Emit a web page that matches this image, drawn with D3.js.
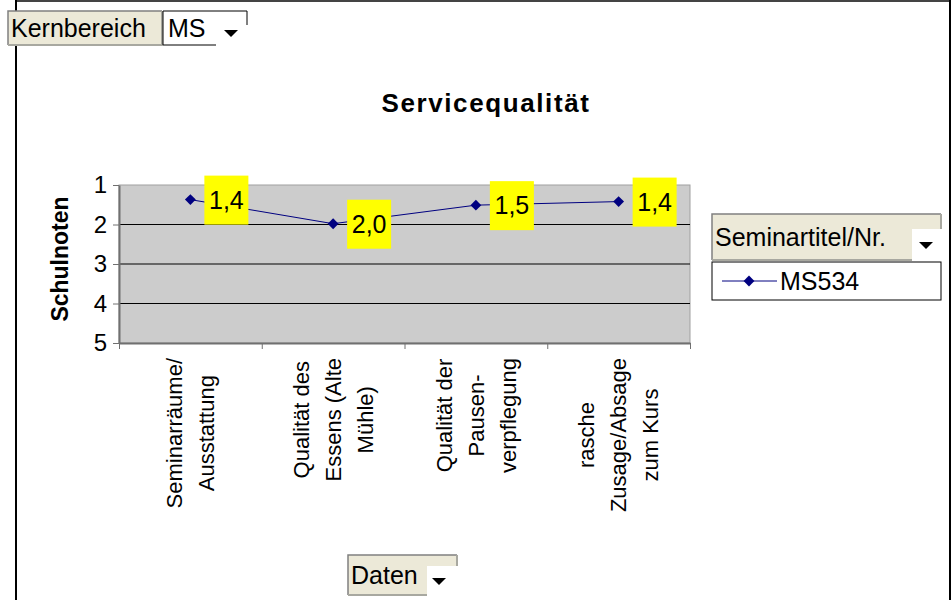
<!DOCTYPE html>
<html>
<head>
<meta charset="utf-8">
<script src="https://cdn.jsdelivr.net/npm/d3@7"></script>
<style>
  body { margin: 0; background: #fff; }
  svg text { font-family: "Liberation Sans", Arial, sans-serif; fill: #000; }
</style>
</head>
<body>
<div id="chart"></div>
<script>
// Data
const categoryLines = [
  ["Seminarräume/", "Ausstattung"],
  ["Qualität des", "Essens (Alte", "Mühle)"],
  ["Qualität der", "Pausen-", "verpflegung"],
  ["rasche", "Zusage/Absage", "zum Kurs"]
];
const values = [1.37, 1.98, 1.51, 1.42];
const yTicks = [1, 2, 3, 4, 5];
const seriesName = "MS534";
const title = "Servicequalität";
const yTitle = "Schulnoten";

const width = 951;
const height = 600;
const plot = { left: 119, right: 690, top: 185, bottom: 343 };

const svg = d3.select("#chart")
  .append("svg")
  .attr("width", width)
  .attr("height", height);

// outer chart frame
svg.append("line").attr("x1", 16).attr("x2", 950).attr("y1", 1).attr("y2", 1)
  .attr("stroke", "#444").attr("stroke-width", 2);
svg.append("line").attr("x1", 16).attr("x2", 16).attr("y1", 0).attr("y2", height)
  .attr("stroke", "#000").attr("stroke-width", 2);
svg.append("line").attr("x1", 950).attr("x2", 950).attr("y1", 0).attr("y2", height)
  .attr("stroke", "#000").attr("stroke-width", 2);

// scales
const x = d3.scaleBand()
  .domain(d3.range(values.length))
  .range([plot.left, plot.right]);
const xEdges = d3.scaleLinear()
  .domain([0, values.length])
  .range([plot.left, plot.right]);
const y = d3.scaleLinear()
  .domain([1, 5])
  .range([plot.top, plot.bottom]);

// plot area
svg.append("rect")
  .attr("x", plot.left).attr("y", plot.top)
  .attr("width", plot.right - plot.left).attr("height", plot.bottom - plot.top)
  .attr("fill", "#cccccc")
  .attr("stroke", "#a0a0a0");

// gridlines
svg.append("g")
  .selectAll("line")
  .data(yTicks.slice(1, -1))
  .join("line")
  .attr("x1", plot.left).attr("x2", plot.right)
  .attr("y1", d => y(d)).attr("y2", d => y(d))
  .attr("stroke", "#000");

// y axis
const yAxis = svg.append("g")
  .attr("transform", `translate(${plot.left},0)`)
  .call(d3.axisLeft(y).tickValues(yTicks).tickFormat(d3.format("d")).tickSize(6).tickPadding(6).tickSizeOuter(0));
yAxis.select(".domain").attr("stroke", "#707070").attr("stroke-width", 2);
yAxis.selectAll(".tick line").attr("stroke", "#707070");
yAxis.selectAll("text").style("font-size", "24px");

// x axis
const xAxis = svg.append("g")
  .attr("transform", `translate(0,${plot.bottom})`)
  .call(d3.axisBottom(xEdges).tickValues(d3.range(values.length + 1)).tickFormat("").tickSize(6).tickSizeOuter(0));
xAxis.select(".domain").attr("stroke", "#707070").attr("stroke-width", 2);
xAxis.selectAll(".tick line").attr("stroke", "#707070");

// category labels, rotated
const labelTop = 358;
const lineStep = 32;
categoryLines.forEach((lines, i) => {
  const g = svg.append("g")
    .attr("transform", `translate(${x(i) + x.bandwidth() / 2},${labelTop}) rotate(-90)`);
  const texts = g.selectAll("text")
    .data(lines)
    .join("text")
    .style("font-size", "22px")
    .attr("y", (d, j) => (j - (lines.length - 1) / 2) * lineStep)
    .attr("dy", "0.35em")
    .text(d => d);
  let maxLen = 0;
  texts.each(function () { maxLen = Math.max(maxLen, this.getComputedTextLength()); });
  texts.attr("text-anchor", "middle").attr("x", -maxLen / 2);
});

// y title
svg.append("text")
  .attr("transform", `translate(68,${(plot.top + plot.bottom) / 2 - 5}) rotate(-90)`)
  .attr("text-anchor", "middle")
  .style("font-size", "23px")
  .style("font-weight", "bold")
  .text(yTitle);

// chart title
svg.append("text")
  .attr("x", 486).attr("y", 112)
  .attr("text-anchor", "middle")
  .style("font-size", "26px")
  .style("font-weight", "bold")
  .style("letter-spacing", "1.6px")
  .text(title);

// line + markers
const line = d3.line()
  .x((d, i) => x(i) + x.bandwidth() / 2)
  .y(d => y(d));
svg.append("path")
  .datum(values)
  .attr("d", line)
  .attr("fill", "none")
  .attr("stroke", "#000080")
  .attr("stroke-width", 1);

const diamond = d3.symbol().type(d3.symbolDiamond2).size(75);
svg.append("g")
  .selectAll("path")
  .data(values)
  .join("path")
  .attr("transform", (d, i) => `translate(${x(i) + x.bandwidth() / 2},${y(d)})`)
  .attr("d", diamond)
  .attr("fill", "#000080");

// data labels
const fmt = v => v.toFixed(1).replace(".", ",");
const labels = svg.append("g")
  .selectAll("g")
  .data(values)
  .join("g")
  .attr("transform", (d, i) => `translate(${x(i) + x.bandwidth() / 2 + 14},${y(d)})`);
labels.append("rect")
  .attr("x", 0).attr("y", -24)
  .attr("width", 44).attr("height", 49)
  .attr("fill", "#ffff00");
labels.append("text")
  .attr("x", 22).attr("y", 0).attr("dy", "0.36em")
  .attr("text-anchor", "middle")
  .style("font-size", "25px")
  .text(fmt);

// pivot field buttons
function fieldButton(bx, by, w, h, label, arrowBox) {
  const g = svg.append("g");
  g.append("rect").attr("x", bx).attr("y", by).attr("width", w).attr("height", h)
    .attr("fill", "#ece9d8");
  g.append("path")
    .attr("d", `M${bx},${by + h}V${by}H${bx + w}`)
    .attr("fill", "none").attr("stroke", "#808080").attr("stroke-width", 1.5);
  g.append("path")
    .attr("d", `M${bx + w},${by}V${by + h}H${bx}`)
    .attr("fill", "none").attr("stroke", "#a8a8a0").attr("stroke-width", 2);
  if (arrowBox) {
    g.append("rect").attr("x", arrowBox[0]).attr("y", arrowBox[1])
      .attr("width", arrowBox[2]).attr("height", arrowBox[3]).attr("fill", "#fff");
  }
  g.append("text").attr("x", bx + 3).attr("y", by + h / 2).attr("dy", "0.36em")
    .style("font-size", "25px").text(label);
  return g;
}
function arrow(cx, cy) {
  svg.append("path")
    .attr("d", `M${cx - 7},${cy - 3}H${cx + 7}L${cx},${cy + 4}Z`)
    .attr("fill", "#000");
}

fieldButton(8, 11, 154, 34, "Kernbereich");
// page field value box
svg.append("path")
  .attr("d", "M247,25V11H163V45H216")
  .attr("fill", "none").attr("stroke", "#000").attr("stroke-width", 1);
svg.append("text").attr("x", 168).attr("y", 28).attr("dy", "0.36em")
  .style("font-size", "25px").text("MS");
arrow(231, 33);

fieldButton(712, 214, 229, 46, "Seminartitel/Nr.", [912, 229, 30, 32]);
arrow(926, 245);

fieldButton(348, 555, 109, 40, "Daten", [427, 566, 31, 30]);
arrow(439, 581);

// legend
svg.append("rect")
  .attr("x", 712).attr("y", 262).attr("width", 229).attr("height", 38)
  .attr("fill", "#fff").attr("stroke", "#000");
svg.append("line")
  .attr("x1", 722).attr("x2", 777).attr("y1", 281).attr("y2", 281)
  .attr("stroke", "#000080");
svg.append("path")
  .attr("transform", "translate(749,281)")
  .attr("d", diamond)
  .attr("fill", "#000080");
svg.append("text").attr("x", 780).attr("y", 281).attr("dy", "0.36em")
  .style("font-size", "25px").text(seriesName);
</script>
</body>
</html>
